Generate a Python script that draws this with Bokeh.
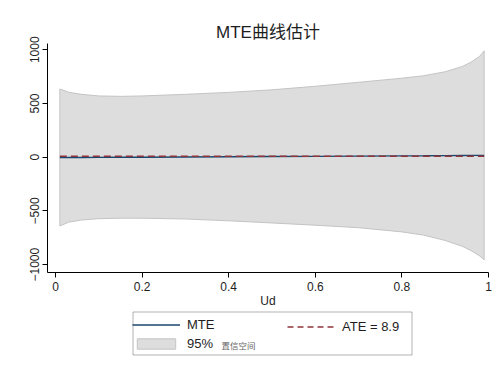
from bokeh.plotting import figure
from bokeh.layouts import column
from bokeh.models import Range1d, Legend, LegendItem, Label, FixedTicker, BoxAnnotation
from bokeh.embed import file_html
from bokeh.resources import INLINE

# Data
ud = [0.01, 0.03, 0.06, 0.10, 0.15, 0.20, 0.30, 0.40, 0.50, 0.60, 0.70, 0.80, 0.85, 0.90, 0.94, 0.96, 0.98, 0.99]
ci_upper = [635, 605, 585, 570, 566, 570, 585, 603, 627, 660, 697, 735, 758, 795, 845, 885, 940, 990]
ci_lower = [-640, -605, -585, -572, -568, -568, -575, -592, -612, -633, -656, -695, -725, -775, -830, -870, -920, -955]
mte = [-4, -3.5, -3, -2, -1, 0, 2, 4, 6, 8, 10, 12.5, 13.5, 15, 16, 16.5, 17, 17]
ate = 8.9
x_ticks = [0, 0.2, 0.4, 0.6, 0.8, 1]
y_ticks = [-1000, -500, 0, 500, 1000]

FONT = "Liberation Sans, Noto Sans CJK SC"
NAVY = "#1a476f"
MAROON = "#90353b"
BAND_FILL = "#dddddd"
BAND_LINE = "#c4c4c4"

p = figure(width=496, height=308, frame_width=441, frame_height=229,
           output_backend="svg", toolbar_location=None,
           x_range=Range1d(-0.0185, 1.0), y_range=Range1d(-1073, 1058),
           min_border_left=47, min_border_right=8, min_border_top=43, min_border_bottom=36,
           title="MTE曲线估计")
p.outline_line_color = None
p.xgrid.visible = False
p.ygrid.visible = False
p.background_fill_color = "white"

p.title.align = "center"
p.title.text_font = FONT
p.title.text_font_size = "17px"
p.title.text_font_style = "normal"
p.title.text_color = "#1e1e1e"
p.title.standoff = 4

px = ud + ud[::-1]
py = ci_upper + ci_lower[::-1]
p.patch(px, py, fill_color=BAND_FILL, line_color=BAND_LINE, line_width=1)
p.line(ud, mte, line_color=NAVY, line_width=1.4)
p.line([ud[0], ud[-1]], [ate, ate], line_color=MAROON, line_width=1.3, line_dash="7 4")

for ax in (p.xaxis[0], p.yaxis[0]):
    ax.axis_line_color = "black"
    ax.axis_line_width = 1
    ax.major_tick_line_color = "black"
    ax.major_tick_out = 5
    ax.major_tick_in = 0
    ax.minor_tick_line_color = None
    ax.major_label_text_font = FONT
    ax.major_label_text_font_size = "12px"
    ax.major_label_text_color = "#1e1e1e"
    ax.axis_label_text_font = FONT
    ax.axis_label_text_font_size = "12px"
    ax.axis_label_text_font_style = "normal"
    ax.axis_label_text_color = "#1e1e1e"

p.xaxis.ticker = FixedTicker(ticks=x_ticks)
p.xaxis.major_label_overrides = {0: "0", 1: "1"}
p.xaxis.axis_label = "Ud"
p.xaxis.axis_label_standoff = 0
p.xaxis.major_label_standoff = 4
p.yaxis.ticker = FixedTicker(ticks=y_ticks)
p.yaxis.major_label_orientation = "vertical"
p.yaxis.major_label_standoff = 3

# legend strip: key renderers use the same data, kept outside the visible range
lf = figure(width=496, height=50, output_backend="svg", toolbar_location=None,
            min_border=0, x_range=Range1d(0, 1), y_range=Range1d(5000, 6000))
lf.axis.visible = False
lf.grid.visible = False
lf.outline_line_color = None
k_band = lf.patch(px, py, fill_color=BAND_FILL, line_color=BAND_LINE, line_width=1)
k_mte = lf.line(ud, mte, line_color=NAVY, line_width=1.5)
k_ate = lf.line([ud[0], ud[-1]], [ate, ate], line_color=MAROON, line_width=1.5, line_dash="6 4")

def style(lg):
    lg.label_text_font = FONT
    lg.label_text_font_size = "13px"
    lg.label_text_color = "#1e1e1e"
    lg.glyph_width = 48
    lg.glyph_height = 13
    lg.label_standoff = 7
    lg.label_width = 20
    lg.label_height = 13
    lg.spacing = 4
    lg.padding = 5
    lg.margin = 0
    lg.border_line_color = None
    lg.background_fill_color = None

box = BoxAnnotation(left=85.5, right=364.5, bottom=5.5, top=48.5,
                    left_units="screen", right_units="screen",
                    bottom_units="screen", top_units="screen",
                    fill_color="white", fill_alpha=1.0,
                    line_color="black", line_width=1)
lf.add_layout(box)

leg1 = Legend(items=[LegendItem(label="MTE", renderers=[k_mte]),
                     LegendItem(label="95%", renderers=[k_band])],
              location=(85, 9.5))
style(leg1)
lf.add_layout(leg1)

leg2 = Legend(items=[LegendItem(label="ATE = 8.9", renderers=[k_ate])],
              location=(240, 26.5))
style(leg2)
lf.add_layout(leg2)

small = Label(x=174, y=15, x_units="screen", y_units="screen", text="置信空间",
              text_font=FONT, text_font_size="8.5px", text_color="#666666",
              text_baseline="middle")
lf.add_layout(small)

open("out.html", "w").write(file_html(column(p, lf, spacing=0), INLINE))
